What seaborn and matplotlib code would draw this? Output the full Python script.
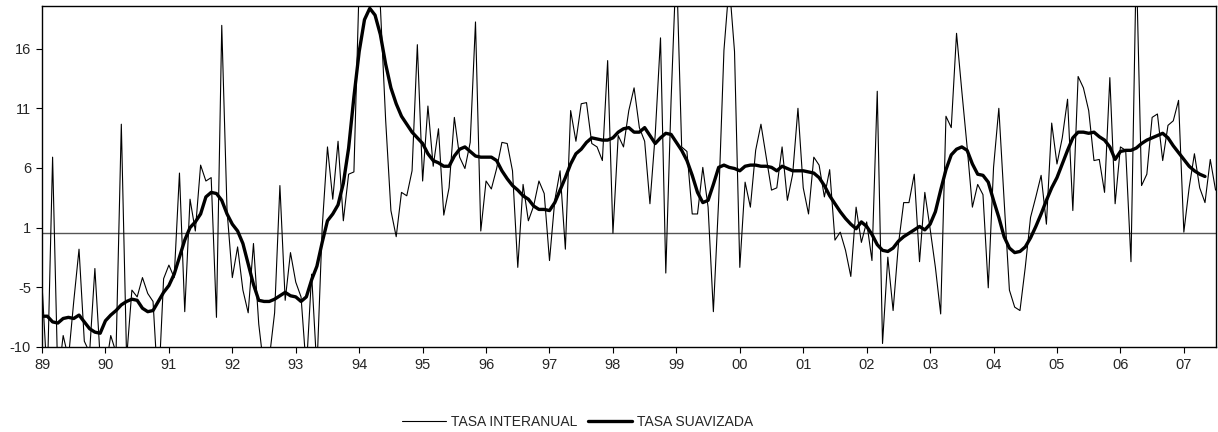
import numpy as np
import pandas as pd
import matplotlib
matplotlib.use("Agg")
import matplotlib.pyplot as plt
import seaborn as sns


# Monthly series, Jan 1989 -> Jul 2007
START_YEAR = 1989

tasa_interanual = [
    -4.5, -13, 6.7, -13, -9, -11, -6, -1.4, -9.5, -10.5, -3.1, -11,          # 89
    -12, -9, -10.5, 9.6, -11, -5.0, -5.6, -3.9, -5.3, -6, -14, -4,           # 90
    -2.8, -3.9, 5.3, -6.9, 3.0, 0.2, 6.0, 4.6, 4.9, -7.4, 18.3, 2.0,         # 91
    -3.9, -1.2, -5, -7.0, -0.9, -8, -12, -11, -7, 4.2, -5.9, -1.7,           # 92
    -4.3, -5.6, -12, -3.6, -12, 0.5, 7.6, 3.0, 8.1, 1.1, 5.2, 5.4,           # 93
    22, 25, 26, 24, 20, 10, 2, -0.3, 3.6, 3.3, 5.5, 16.6,                    # 94
    4.6, 11.2, 5.9, 9.2, 1.6, 4.0, 10.2, 6.7, 5.7, 8.0, 18.6, 0.2,           # 95
    4.6, 3.9, 5.7, 8.0, 7.9, 5.5, -3.0, 4.3, 1.1, 2.4, 4.6, 3.5,             # 96
    -2.4, 2.9, 5.5, -1.4, 10.8, 8.1, 11.4, 11.5, 7.9, 7.6, 6.4, 15.2,        # 97
    0.0, 8.6, 7.6, 10.8, 12.8, 9.3, 8.1, 2.6, 8.7, 17.2, -3.5, 11.7,         # 98
    24, 7.6, 7.2, 1.7, 1.7, 5.8, 2.3, -6.9, 2.9, 16.1, 22, 16,               # 99
    -3.0, 4.5, 2.3, 7.3, 9.6, 6.7, 3.8, 4.0, 7.6, 2.9, 5.2, 11.0,            # 00
    4.0, 1.7, 6.7, 6.0, 3.2, 5.6, -0.6, 0.1, -1.5, -3.8, 2.3, -0.8,          # 01
    1.0, -2.4, 12.5, -9.7, -2.1, -6.8, -1.0, 2.7, 2.7, 5.2, -2.5, 3.6,       # 02
    0.4, -3, -7.1, 10.3, 9.3, 17.6, 12.5, 7.6, 2.3, 4.3, 3.4, -4.8,          # 03
    5.8, 11.0, 2.9, -5.0, -6.5, -6.8, -3.0, 1.4, 3.2, 5.1, 0.8, 9.7,         # 04
    6.1, 8.4, 11.8, 2.0, 13.8, 12.8, 10.8, 6.4, 6.5, 3.6, 13.7, 2.6,         # 05
    7.6, 7.3, -2.5, 24, 4.2, 5.2, 10.2, 10.5, 6.4, 9.5, 9.9, 11.7,           # 06
    0.1, 4.0, 7.0, 4.0, 2.7, 6.5, 3.8,                                       # 07
]

tasa_suavizada = [
    -7.3, -7.3, -7.8, -7.9, -7.5, -7.4, -7.5, -7.2, -7.8, -8.4, -8.7, -8.8,  # 89
    -7.7, -7.2, -6.8, -6.3, -6.0, -5.8, -5.9, -6.6, -6.9, -6.8, -6.0, -5.2,  # 90
    -4.6, -3.6, -2.1, -0.6, 0.5, 1.0, 1.7, 3.2, 3.6, 3.5, 2.9, 1.7,          # 91
    0.8, 0.2, -0.9, -2.7, -4.5, -5.9, -6.0, -6.0, -5.8, -5.5, -5.2, -5.5,    # 92
    -5.6, -6.0, -5.6, -4.1, -2.9, -0.8, 1.1, 1.7, 2.5, 4.4, 7.5, 12.0,       # 93
    16.0, 18.8, 19.8, 19.2, 17.5, 14.9, 12.8, 11.4, 10.3, 9.6, 8.9, 8.4,     # 94
    7.9, 7.0, 6.4, 6.2, 5.9, 5.9, 6.8, 7.4, 7.6, 7.2, 6.8, 6.7,              # 95
    6.7, 6.7, 6.4, 5.5, 4.8, 4.2, 3.8, 3.3, 3.0, 2.4, 2.1, 2.1,              # 96
    2.0, 2.7, 3.8, 4.9, 6.1, 7.0, 7.4, 8.0, 8.4, 8.3, 8.2, 8.2,              # 97
    8.4, 8.9, 9.2, 9.3, 8.9, 8.9, 9.3, 8.6, 7.9, 8.4, 8.8, 8.7,              # 98
    8.0, 7.3, 6.4, 5.1, 3.6, 2.7, 2.9, 4.3, 5.8, 6.0, 5.8, 5.7,              # 99
    5.5, 5.9, 6.0, 6.0, 5.9, 5.9, 5.8, 5.5, 5.9, 5.7, 5.5, 5.5,              # 00
    5.5, 5.4, 5.3, 4.9, 4.2, 3.3, 2.6, 1.9, 1.3, 0.8, 0.4, 1.0,              # 01
    0.6, -0.1, -1.0, -1.5, -1.6, -1.3, -0.7, -0.3, 0.0, 0.3, 0.6, 0.3,       # 02
    0.8, 1.9, 3.8, 5.6, 6.9, 7.4, 7.6, 7.3, 6.1, 5.2, 5.1, 4.5,              # 03
    2.9, 1.4, -0.3, -1.3, -1.7, -1.6, -1.2, -0.4, 0.6, 1.7, 2.9, 4.0,        # 04
    4.9, 6.1, 7.3, 8.4, 8.9, 8.9, 8.8, 8.9, 8.5, 8.2, 7.6, 6.5,              # 05
    7.2, 7.3, 7.3, 7.5, 7.9, 8.2, 8.4, 8.6, 8.8, 8.4, 7.7, 7.1,              # 06
    6.5, 5.9, 5.5, 5.2, 5.0,                                                 # 07
]

year_labels = ["89", "90", "91", "92", "93", "94", "95", "96", "97", "98",
               "99", "00", "01", "02", "03", "04", "05", "06", "07"]

# Excel-style axis: min -10, major unit 5.25, labels shown as integers
y_ticks = [-10, -4.75, 0.5, 5.75, 11, 16.25]
y_labels = ["-10", "-5", "1", "6", "11", "16"]


def build_frame() -> pd.DataFrame:
    n = len(tasa_interanual)
    fecha = START_YEAR + np.arange(n) / 12.0
    suav = tasa_suavizada + [np.nan] * (n - len(tasa_suavizada))
    return pd.DataFrame({"fecha": fecha,
                         "interanual": tasa_interanual,
                         "suavizada": suav})


def main() -> None:
    df = build_frame()

    sns.set_style("ticks")
    plt.rcParams["font.family"] = ["Liberation Sans", "DejaVu Sans"]

    fig = plt.figure(figsize=(12.18, 4.32), dpi=100)
    ax = fig.add_axes([0.0345, 0.197, 0.9635, 0.789])

    ax.axhline(0, color="#555555", linewidth=1.0, zorder=1)

    sns.lineplot(data=df, x="fecha", y="interanual", ax=ax, color="black",
                 linewidth=0.8, label="TASA INTERANUAL", zorder=2)
    sns.lineplot(data=df.dropna(), x="fecha", y="suavizada", ax=ax,
                 color="black", linewidth=2.4, label="TASA SUAVIZADA", zorder=3)

    ax.set_xlim(START_YEAR, START_YEAR + (len(tasa_interanual) - 1) / 12.0)
    ax.set_ylim(-10, 20)

    ax.set_xticks(START_YEAR + np.arange(len(year_labels)))
    ax.set_xticklabels(year_labels)
    ax.set_yticks(y_ticks)
    ax.set_yticklabels(y_labels)
    ax.tick_params(axis="both", labelsize=10.5, length=4, width=0.8,
                   color="black", direction="out", pad=4)

    ax.set_xlabel("")
    ax.set_ylabel("")
    for side in ["top", "right", "left", "bottom"]:
        ax.spines[side].set_visible(True)
        ax.spines[side].set_color("black")
        ax.spines[side].set_linewidth(1.0)

    ax.legend(loc="center", bbox_to_anchor=(0.474, 0.024),
              bbox_transform=fig.transFigure, ncol=2, frameon=False,
              fontsize=10, handlelength=3.2, handletextpad=0.3,
              columnspacing=0.8)

    fig.savefig("out.png", dpi=100)


if __name__ == "__main__":
    main()
